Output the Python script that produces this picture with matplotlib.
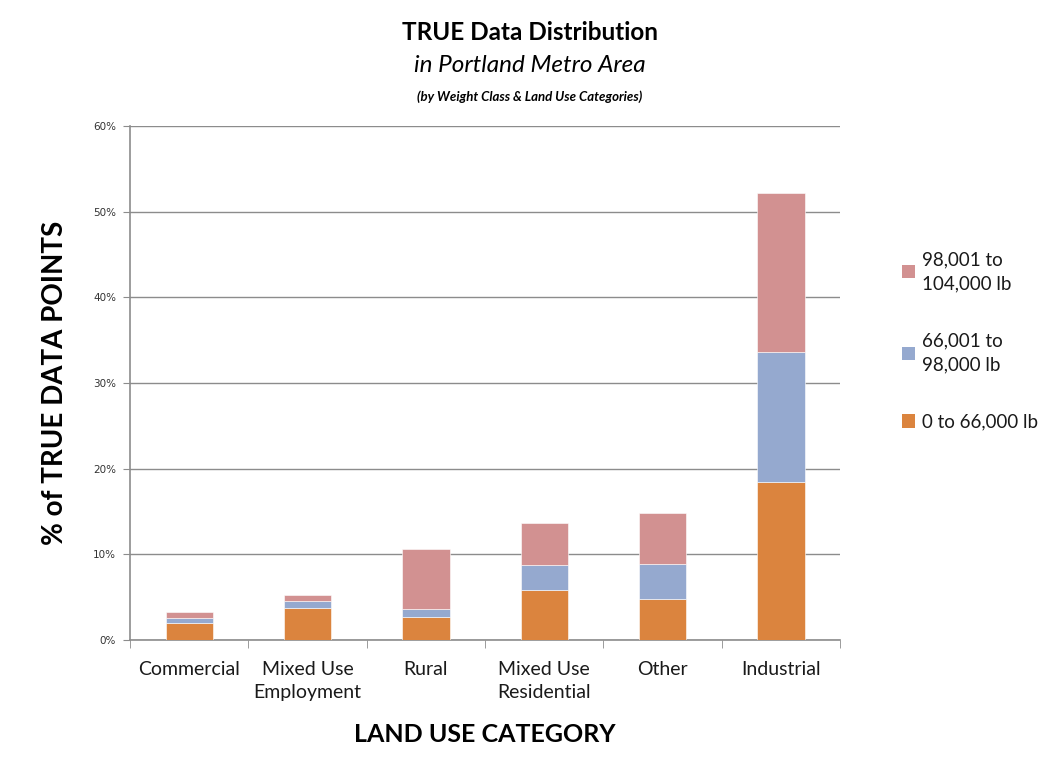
import matplotlib.pyplot as plt
import numpy as np
from matplotlib.patches import Patch
from matplotlib.ticker import FixedLocator, PercentFormatter

plt.rcParams['font.family'] = ['Lato', 'DejaVu Sans']

# Data (percent of TRUE data points)
categories = ['Commercial', 'Mixed Use\nEmployment', 'Rural', 'Mixed Use\nResidential', 'Other', 'Industrial']
light = [2.0, 3.75, 2.65, 5.8, 4.8, 18.4]      # 0 to 66,000 lb
medium = [0.55, 0.8, 0.95, 3.0, 4.1, 15.2]     # 66,001 to 98,000 lb
heavy = [0.7, 0.65, 7.0, 4.9, 5.9, 18.6]       # 98,001 to 104,000 lb
labels = ['0 to 66,000 lb', '66,001 to\n98,000 lb', '98,001 to\n104,000 lb']
colors = ['#DB843E', '#95A9CF', '#D29191']
yticks = [0, 10, 20, 30, 40, 50, 60]

fig = plt.figure(figsize=(10.45, 7.65), dpi=100)
ax = fig.add_axes([130 / 1045, 125 / 765, 710 / 1045, 514 / 765])

x = np.arange(len(categories))
bottom = np.zeros(len(categories))
for vals, c in zip([light, medium, heavy], colors):
    ax.bar(x, vals, width=0.4, bottom=bottom, color=c, edgecolor='white', linewidth=0.4, zorder=3)
    bottom += np.array(vals)

ax.set_xlim(-0.5, len(categories) - 0.5)
ax.set_ylim(0, 60)
ax.set_yticks(yticks)
ax.yaxis.set_major_formatter(PercentFormatter(decimals=0))
ax.grid(axis='y', color='#8c8c8c', linewidth=1.0, zorder=0)

ax.set_xticks(x)
ax.set_xticklabels(categories, fontsize=14, color='#1a1a1a', linespacing=1.45)
ax.tick_params(axis='x', which='major', length=0, pad=15)
ax.xaxis.set_minor_locator(FixedLocator(np.arange(-0.5, len(categories), 1.0)))
ax.tick_params(axis='x', which='minor', length=6, color='#8c8c8c', direction='out')
ax.tick_params(axis='y', length=5, color='#8c8c8c', labelsize=7.5, labelcolor='#333333', pad=5)
for lab in ax.get_yticklabels():
    lab.set_family('DejaVu Sans')

for s in ['top', 'right']:
    ax.spines[s].set_visible(False)
for s in ['left', 'bottom']:
    ax.spines[s].set_color('#8c8c8c')
    ax.spines[s].set_linewidth(1.2)

ax.set_ylabel('% of TRUE DATA POINTS', fontsize=20, fontweight='bold', labelpad=18)
ax.set_xlabel('LAND USE CATEGORY', fontsize=18, fontweight='bold', labelpad=16)

fig.text(530 / 1045, 1 - 33 / 765, 'TRUE Data Distribution', ha='center', va='center',
         fontsize=17.5, fontweight='bold')
fig.text(530 / 1045, 1 - 66 / 765, 'in Portland Metro Area', ha='center', va='center',
         fontsize=17.5, style='italic')
fig.text(530 / 1045, 1 - 97 / 765, '(by Weight Class & Land Use Categories)', ha='center', va='center',
         fontsize=9.5, style='italic', fontweight='bold')

handles = [Patch(facecolor=c, edgecolor='none') for c in colors]
leg = fig.legend(handles[::-1], labels[::-1], loc='upper left', bbox_to_anchor=(885 / 1045, 1 - 234 / 765),
                 frameon=False, handlelength=0.7, handleheight=0.7, handletextpad=0.35,
                 labelspacing=2.15, labelcolor='#1a1a1a', prop={'size': 13.5})
for t in leg.get_texts():
    t.set_linespacing(1.5)

fig.savefig('out.png', dpi=100)
